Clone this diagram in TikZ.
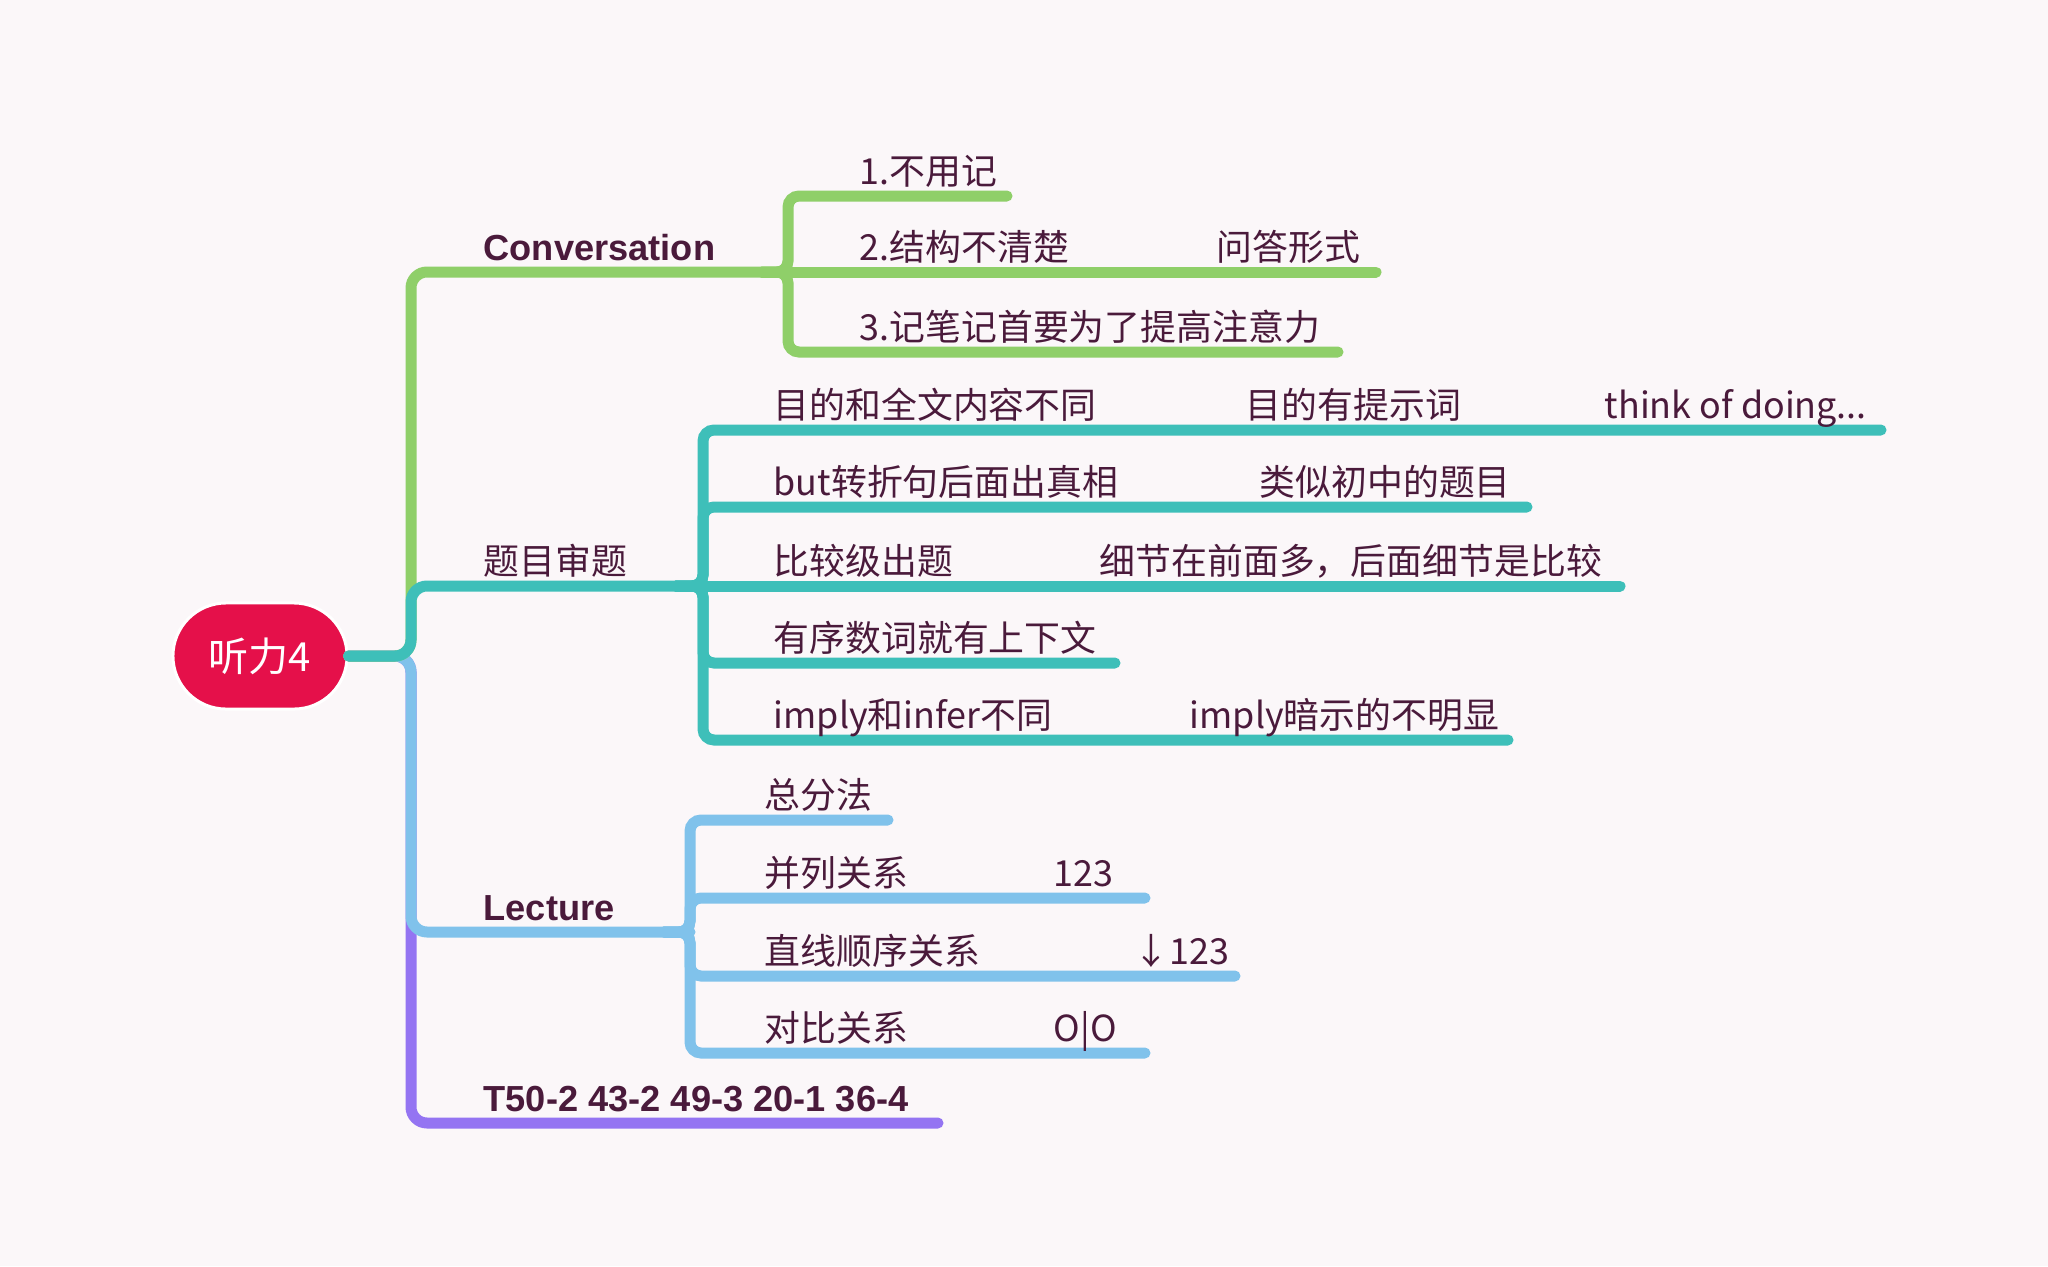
\documentclass[tikz,border=0pt]{standalone}
\usepackage{fontspec}
\setmainfont{Noto Sans CJK SC}
\newfontfamily\headfont{Liberation Sans}
\usepackage{tikz}
\usetikzlibrary{positioning}

\definecolor{bgpaper}{HTML}{FBF7F9}
\definecolor{inkplum}{HTML}{4A1A3B}
\definecolor{rootred}{HTML}{E5104A}
\definecolor{leafgreen}{HTML}{8FCF69}
\definecolor{tealbr}{HTML}{3EBFB9}
\definecolor{skyblue}{HTML}{80C2EB}
\definecolor{violetbr}{HTML}{9474F2}

\begin{document}
\begin{tikzpicture}[x=0.01cm, y=-0.01cm,
    branch/.style={line width=0.11cm, line cap=round, rounded corners=0.16cm},
    forkline/.style={line width=0.11cm, line cap=round, rounded corners=0.11cm},
    topic/.style={anchor=base west, inner sep=0pt, text=inkplum, font=\headfont\bfseries\fontsize{10.3pt}{12pt}\selectfont},
    leaf/.style={anchor=base west, inner sep=0pt, text=inkplum, font=\fontsize{10.2pt}{12pt}\selectfont}]
        \fill[bgpaper] (0,0) rectangle (2048,1266);
        \useasboundingbox (0,0) rectangle (2048,1266);
        \node[fill=rootred, draw=white, line width=0.03cm, rounded corners=0.53cm, minimum width=1.74cm, minimum height=1.06cm,
            text=white, font=\fontsize{11.4pt}{13pt}\selectfont] (root) at (260,656) {听力4};
        \coordinate (trunk) at (411,656);
        \coordinate (convin) at (762,272);  \coordinate (convfork) at (788,272);
        \coordinate (tmin) at (676,586);    \coordinate (tmfork) at (703,586);
        \coordinate (lecin) at (664,932);   \coordinate (lecfork) at (690,932);
        \coordinate (tend) at (938,1123);
        \draw[branch, violetbr] (root.east) -- (trunk) |- (tend);
        \draw[branch, skyblue] (root.east) -- (trunk) |- (lecfork);
        \draw[branch, leafgreen] (root.east) -- (trunk) |- (convfork);
        \draw[branch, tealbr] (root.east) -- (trunk) |- (tmfork);
        \node[topic] (conv) at (483,260) {Conversation};
        \node[leaf] (tm) at (483,574) {题目审题};
        \node[topic] (lec) at (483,920) {Lecture};
        \node[topic] (tnum) at (483,1111) {T50-2 43-2 49-3 20-1 36-4};
        \coordinate (conv1) at (1007,196);
        \coordinate (conv2) at (1376,272);
        \coordinate (conv3) at (1338,352);
        \draw[forkline, leafgreen] (convin) -- (convfork) |- (conv1);
        \draw[forkline, leafgreen] (convin) -- (conv2);
        \draw[forkline, leafgreen] (convin) -- (convfork) |- (conv3);
        \node[leaf] (c1a) at (859,184) {1.不用记};
        \node[leaf] (c2a) at (859,260) {2.结构不清楚};
        \node[leaf] (c2b) at (1216,260) {问答形式};
        \node[leaf] (c3a) at (859,340) {3.记笔记首要为了提高注意力};
        \coordinate (tm1) at (1881,430);
        \coordinate (tm2) at (1527,507);
        \coordinate (tm3) at (1620,586);
        \coordinate (tm4) at (1115,663);
        \coordinate (tm5) at (1508,740);
        \draw[forkline, tealbr] (tmin) -- (tmfork) |- (tm1);
        \draw[forkline, tealbr] (tmin) -- (tmfork) |- (tm2);
        \draw[forkline, tealbr] (tmin) -- (tm3);
        \draw[forkline, tealbr] (tmin) -- (tmfork) |- (tm4);
        \draw[forkline, tealbr] (tmin) -- (tmfork) |- (tm5);
        \node[leaf] (t1a) at (773,418) {目的和全文内容不同};
        \node[leaf] (t1b) at (1245,418) {目的有提示词};
        \node[leaf] (t1c) at (1604,418) {think of doing...};
        \node[leaf] (t2a) at (773,495) {but转折句后面出真相};
        \node[leaf] (t2b) at (1259,495) {类似初中的题目};
        \node[leaf] (t3a) at (773,574) {比较级出题};
        \node[leaf] (t3b) at (1099,574) {细节在前面多，后面细节是比较};
        \node[leaf] (t4a) at (773,651) {有序数词就有上下文};
        \node[leaf] (t5a) at (773,728) {imply和infer不同};
        \node[leaf] (t5b) at (1189,728) {imply暗示的不明显};
        \coordinate (lec1) at (888,820);
        \coordinate (lec2) at (1145,898);
        \coordinate (lec3) at (1235,976);
        \coordinate (lec4) at (1145,1053);
        \draw[forkline, skyblue] (lecin) -- (lecfork) |- (lec1);
        \draw[forkline, skyblue] (lecin) -- (lecfork) |- (lec2);
        \draw[forkline, skyblue] (lecin) -- (lecfork) |- (lec3);
        \draw[forkline, skyblue] (lecin) -- (lecfork) |- (lec4);
        \node[leaf] (l1a) at (764,808) {总分法};
        \node[leaf] (l2a) at (764,886) {并列关系};
        \node[leaf] (l2b) at (1053,886) {123};
        \node[leaf] (l3a) at (764,964) {直线顺序关系};
        \node[leaf] (l3b) at (1133,964) {↓123};
        \node[leaf] (l4a) at (764,1041) {对比关系};
        \node[leaf] (l4b) at (1053,1041) {O|O};
  \end{tikzpicture}
\end{document}
